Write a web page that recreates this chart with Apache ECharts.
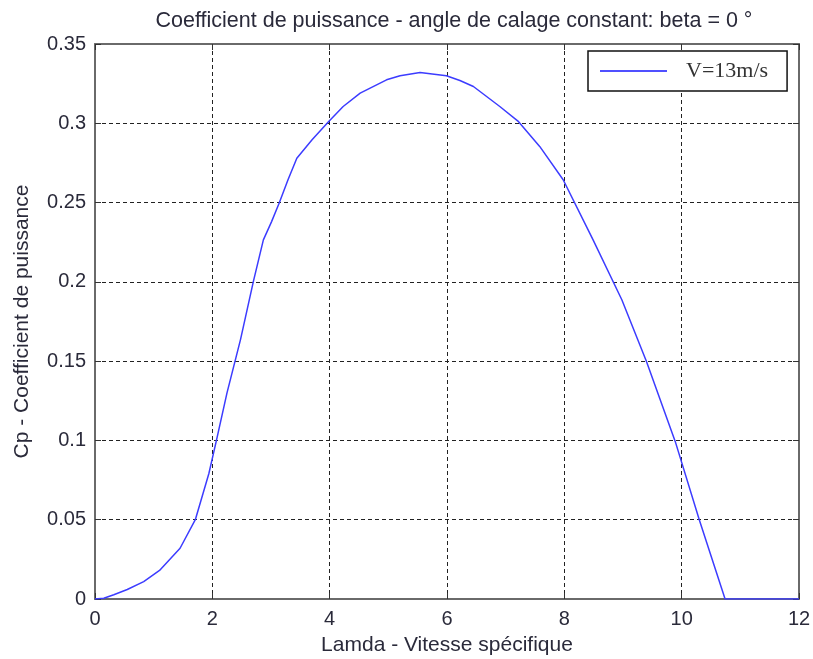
<!DOCTYPE html>
<html>
<head>
<meta charset="utf-8">
<script src="https://cdn.jsdelivr.net/npm/echarts@6/dist/echarts.min.js"></script>
<style>html,body{margin:0;padding:0;background:#fff;}#c{width:813px;height:659px;}</style>
</head>
<body>
<div id="c"></div>
<script>
const titleText = 'Coefficient de puissance - angle de calage constant: beta = 0 °';
const xName = 'Lamda - Vitesse spécifique';
const yName = 'Cp - Coefficient de puissance';
const seriesName = 'V=13m/s';
const lamda = [0, 0.15, 0.32, 0.55, 0.83, 1.1, 1.45, 1.71, 1.94, 2.07, 2.25, 2.48, 2.70, 2.87, 3.01, 3.14, 3.29, 3.44, 3.70, 3.98, 4.23, 4.52, 4.97, 5.20, 5.54, 5.99, 6.22, 6.45, 6.90, 7.22, 7.58, 7.98, 8.49, 8.98, 9.40, 9.89, 10.30, 10.74, 11, 12];
const cp =    [0, 0.0005, 0.0027, 0.006, 0.011, 0.018, 0.032, 0.05, 0.079, 0.1, 0.13, 0.1636, 0.2003, 0.2265, 0.238, 0.2497, 0.2644, 0.278, 0.2896, 0.301, 0.3106, 0.319, 0.3274, 0.330, 0.332, 0.330, 0.327, 0.3232, 0.3106, 0.301, 0.2854, 0.2644, 0.2265, 0.1887, 0.1498, 0.0994, 0.05, 0, 0, 0];

const data = lamda.map((x, i) => [x, cp[i]]);
const font = '"Liberation Sans", Arial, sans-serif';
const txt = '#2a2a3a';
const chart = echarts.init(document.getElementById('c'), null, {renderer: 'canvas'});
const gridLine = {show: true, lineStyle: {color: '#222', type: [4, 3], width: 1}};
const frame = {show: true, onZero: false, lineStyle: {color: '#6a6a6a', width: 2}};
const tick = {show: true, inside: true, length: 6, lineStyle: {color: '#333', width: 1}};
chart.setOption({
  animation: false,
  backgroundColor: '#fff',
  title: {text: titleText, left: 449, top: 5, textAlign: 'center',
    textStyle: {fontFamily: font, fontSize: 21.5, fontWeight: 'normal', color: txt}},
  legend: {
    data: [{name: seriesName, icon: 'rect'}],
    left: 588, top: 51,
    itemWidth: 67, itemHeight: 2, itemGap: 0,
    padding: [9, 19, 9, 12],
    borderColor: '#111', borderWidth: 1.5, backgroundColor: '#fff',
    itemStyle: {color: '#5050ff'},
    textStyle: {fontFamily: 'Liberation Serif, Times New Roman, serif', fontSize: 22, color: '#333', padding: [0, 0, 0, 14]}
  },
  grid: {left: 95, right: 14, top: 44, bottom: 60, outerBoundsMode: 'none', containLabel: false},
  xAxis: [{
    type: 'value', min: 0, max: 12, interval: 2, position: 'bottom',
    name: xName, nameLocation: 'middle', nameGap: 36,
    nameTextStyle: {fontFamily: font, fontSize: 21, color: txt},
    axisLine: frame, axisTick: tick,
    axisLabel: {fontFamily: font, fontSize: 20, color: txt, margin: 10},
    splitLine: gridLine
  }, {
    type: 'value', min: 0, max: 12, interval: 2, position: 'top',
    axisLine: frame, axisTick: tick,
    axisLabel: {show: false}, splitLine: {show: false}
  }],
  yAxis: [{
    type: 'value', min: 0, max: 0.35, interval: 0.05, position: 'left',
    name: yName, nameLocation: 'middle', nameGap: 62, nameRotate: 90,
    nameTextStyle: {fontFamily: font, fontSize: 21, color: txt},
    axisLine: frame, axisTick: tick,
    axisLabel: {fontFamily: font, fontSize: 20, color: txt, margin: 9,
      formatter: v => (Math.round(v * 100) / 100).toString()},
    splitLine: gridLine
  }, {
    type: 'value', min: 0, max: 0.35, interval: 0.05, position: 'right',
    axisLine: frame, axisTick: tick,
    axisLabel: {show: false}, splitLine: {show: false}
  }],
  series: [{
    name: seriesName, type: 'line', data: data, xAxisIndex: 0, yAxisIndex: 0,
    showSymbol: false, symbol: 'none', smooth: false,
    lineStyle: {color: '#3c3cff', width: 1.5},
    itemStyle: {color: '#5050ff'}
  }]
});
</script>
</body>
</html>
